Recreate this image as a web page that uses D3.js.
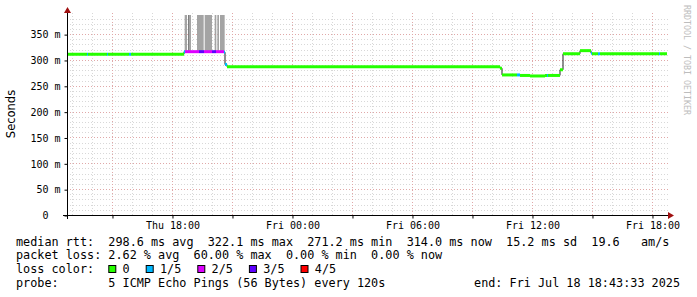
<!DOCTYPE html>
<html>
<head>
<meta charset="utf-8">
<script src="https://cdn.jsdelivr.net/npm/d3@7"></script>
<style>
  body { margin: 0; background: #fff; }
  text { font-family: "DejaVu Sans Mono", monospace; white-space: pre; }
</style>
</head>
<body>
<svg class="container"></svg>
<script>
const startTime = "2025-07-17T12:43:33";
const endTime = "2025-07-18T18:43:33";

// median rtt, one run per entry: start time, ms, lost pings (of 5)
const medTimes = [
  "2025-07-17T12:43:33", "2025-07-17T13:43:33", "2025-07-17T13:46:33",
  "2025-07-17T14:43:33", "2025-07-17T14:46:33", "2025-07-17T15:49:33",
  "2025-07-17T15:55:33", "2025-07-17T18:34:33", "2025-07-17T18:37:33",
  "2025-07-17T19:19:33", "2025-07-17T19:34:33", "2025-07-17T19:58:33",
  "2025-07-17T20:10:33", "2025-07-17T20:34:33", "2025-07-17T20:37:33",
  "2025-07-17T20:43:33", "2025-07-18T10:22:33", "2025-07-18T10:28:33",
  "2025-07-18T11:13:33", "2025-07-18T11:22:33", "2025-07-18T11:52:33",
  "2025-07-18T12:37:33", "2025-07-18T12:43:33", "2025-07-18T12:46:33",
  "2025-07-18T13:22:33", "2025-07-18T13:31:33", "2025-07-18T14:22:33",
  "2025-07-18T14:55:33", "2025-07-18T14:58:33", "2025-07-18T15:16:33",
  "2025-07-18T15:22:33", "2025-07-18T18:19:33", "2025-07-18T18:22:33"
];
const medValues = [
  312, 312, 312, 312, 312, 312, 312, 317, 317, 317, 317, 317, 317, 316, 292,
  288, 285, 272, 272, 271, 270, 271, 271, 271, 282, 313, 319, 314, 313, 313,
  313, 313, 313
];
const medLoss = [
  0, 1, 0, 1, 0, 1, 0, 1, 2, 3, 2, 3, 2, 1, 1,
  0, 0, 0, 1, 0, 0, 0, 1, 0, 0, 0, 0, 1, 0, 1,
  0, 1, 0
];

// smoke (spread of the pings) during the loss period
const smokeStart = [
  "2025-07-17T18:36:33", "2025-07-17T18:46:33", "2025-07-17T18:49:33",
  "2025-07-17T19:13:33", "2025-07-17T19:36:33", "2025-07-17T20:06:33",
  "2025-07-17T20:14:33", "2025-07-17T20:22:33"
];
const smokeEnd = [
  "2025-07-17T18:43:33", "2025-07-17T18:49:33", "2025-07-17T18:55:33",
  "2025-07-17T19:33:33", "2025-07-17T19:58:33", "2025-07-17T20:11:33",
  "2025-07-17T20:19:33", "2025-07-17T20:36:33"
];
const smokeMax = [420, 450, 420, 430, 440, 410, 420, 430];
const smokePings = [1, 2, 1, 1, 1, 1, 1, 1];

const yTicks = [0, 50, 100, 150, 200, 250, 300, 350];
const lossLabels = ["0", "1/5", "2/5", "3/5", "4/5"];
const lossColors = ["#26ff00", "#00b8ff", "#dd00ff", "#5e00ff", "#ff0000"];

const statLines = [
  "median rtt:  298.6 ms avg  322.1 ms max  271.2 ms min  314.0 ms now  15.2 ms sd  19.6   am/s",
  "packet loss: 2.62 % avg  60.00 % max  0.00 % min  0.00 % now"
];
const probeText = "probe:       5 ICMP Echo Pings (56 Bytes) every 120s";
const endText = "end: Fri Jul 18 18:43:33 2025";

const width = 697;
const height = 297;
const plotLeft = 67, plotRight = 667, plotTop = 15, plotBottom = 215;
const charW = 7.1;

const svg = d3.select(".container").attr("width", width).attr("height", height);
const parse = d3.timeParse("%Y-%m-%dT%H:%M:%S");
const t0 = parse(startTime), t1 = parse(endTime);

const x = d3.scaleTime().domain([t0, t1]).range([plotLeft, plotRight]);
const y = d3.scaleLinear().domain([0, 387]).range([plotBottom + 0.5, plotTop + 0.5]);
const crisp = (v) => Math.round(v - 0.5) + 0.5;

svg.append("clipPath").attr("id", "plot")
  .append("rect").attr("x", plotLeft).attr("y", plotTop)
  .attr("width", plotRight - plotLeft).attr("height", plotBottom - plotTop);

// grid
const grid = svg.append("g").attr("stroke-width", 1).attr("stroke-dasharray", "1,2");
d3.range(10, 390, 10).forEach((v) => {
  grid.append("line")
    .attr("x1", plotLeft).attr("x2", plotRight + 1)
    .attr("y1", crisp(y(v))).attr("y2", crisp(y(v)))
    .attr("stroke", v % 50 === 0 ? "#e0a8a8" : "#d8d8d8");
});
d3.timeHour.range(t0, t1).forEach((d) => {
  grid.append("line")
    .attr("x1", crisp(x(d))).attr("x2", crisp(x(d)))
    .attr("y1", plotTop - 2).attr("y2", plotBottom)
    .attr("stroke", d.getHours() % 3 === 0 ? "#e0a8a8" : "#d8d8d8");
});

// smoke
const plot = svg.append("g").attr("clip-path", "url(#plot)");
const medDates = medTimes.map(parse);
smokeStart.forEach((s, i) => {
  const xa = x(parse(s)), xb = x(parse(smokeEnd[i]));
  const med = medValues[d3.bisectRight(medDates, parse(s)) - 1];
  plot.append("rect")
    .attr("x", xa).attr("width", xb - xa)
    .attr("y", y(smokeMax[i])).attr("height", y(med) - y(smokeMax[i]))
    .attr("fill", smokePings[i] > 1 ? "#808080" : "#a4a4a4");
});

// median line, dark steps under the loss coloured runs
const medPoints = medDates.map((t, i) => [t, medValues[i]]);
medPoints.push([t1, medValues[medValues.length - 1]]);
plot.append("path")
  .attr("d", d3.line().x((d) => x(d[0])).y((d) => y(d[1])).curve(d3.curveStepAfter)(medPoints))
  .attr("fill", "none").attr("stroke", "#202020").attr("stroke-width", 1);

medDates.forEach((t, i) => {
  const tb = i + 1 < medDates.length ? medDates[i + 1] : t1;
  plot.append("line")
    .attr("x1", x(t)).attr("x2", x(tb))
    .attr("y1", y(medValues[i])).attr("y2", y(medValues[i]))
    .attr("stroke", lossColors[medLoss[i]]).attr("stroke-width", 3);
});

// axes
const yAxis = d3.axisLeft(y).tickValues(yTicks).tickSize(3).tickPadding(4)
  .tickFormat((d) => (d ? d + " m" : "0\u00a0\u00a0"));
const yg = svg.append("g").attr("transform", `translate(${plotLeft + 0.5},0)`).call(yAxis);
yg.select(".domain").remove();
yg.selectAll("text").attr("font-family", "DejaVu Sans Mono").attr("font-size", 10).attr("fill", "#000");

const fmt = d3.timeFormat("%a %H:%M");
const xAxis = d3.axisBottom(x).ticks(d3.timeHour.every(3)).tickSize(3).tickPadding(3)
  .tickFormat((d) => (d.getHours() % 6 === 0 ? fmt(d) : ""));
const xg = svg.append("g").attr("transform", `translate(0,${plotBottom + 0.5})`).call(xAxis);
xg.select(".domain").remove();
xg.selectAll("text").attr("font-family", "DejaVu Sans Mono").attr("font-size", 10).attr("fill", "#000");

svg.append("line").attr("x1", plotLeft - 4).attr("x2", plotRight + 2)
  .attr("y1", plotBottom + 0.5).attr("y2", plotBottom + 0.5).attr("stroke", "#000");
svg.append("line").attr("x1", plotLeft + 0.5).attr("x2", plotLeft + 0.5)
  .attr("y1", plotBottom + 4).attr("y2", plotTop - 3).attr("stroke", "#000");
svg.append("path").attr("fill", "#a01010")
  .attr("d", `M${plotRight + 1},${plotBottom - 3} L${plotRight + 7},${plotBottom + 0.5} L${plotRight + 1},${plotBottom + 4} Z`);
svg.append("path").attr("fill", "#a01010")
  .attr("d", `M${plotLeft - 3},${plotTop - 2} L${plotLeft + 0.5},${plotTop - 8} L${plotLeft + 4},${plotTop - 2} Z`);

svg.append("text")
  .attr("transform", `translate(15,${(plotTop + plotBottom) / 2 - 1}) rotate(-90)`)
  .attr("text-anchor", "middle")
  .attr("font-size", 11.5)
  .style("font-family", "DejaVu Sans")
  .text("Seconds");

svg.append("text")
  .attr("transform", "translate(684,5) rotate(90)")
  .attr("font-size", 8.3).attr("fill", "#bdbdbd")
  .text("RRDTOOL / TOBI OETIKER");

// legend
const legend = svg.append("g").attr("font-size", 11.8).attr("fill", "#000");
const legendText = (tx, ty, s) =>
  legend.append("text").attr("xml:space", "preserve").attr("x", tx).attr("y", ty).text(s);
statLines.forEach((s, i) => legendText(16, 245.5 + i * 13.8, s));
legendText(16, 245.5 + 2 * 13.8, "loss color:");
let lx = 16 + 13 * charW;
lossLabels.forEach((l, i) => {
  legend.append("rect")
    .attr("x", lx + 0.5).attr("y", 265.5).attr("width", 7).attr("height", 7)
    .attr("fill", lossColors[i]).attr("stroke", "#000");
  legendText(lx + 14.3, 245.5 + 2 * 13.8, l);
  lx += 14.3 + l.length * charW + 16;
});
legendText(16, 245.5 + 3 * 13.8, probeText);
legendText(680, 245.5 + 3 * 13.8, endText).attr("text-anchor", "end");
</script>
</body>
</html>
